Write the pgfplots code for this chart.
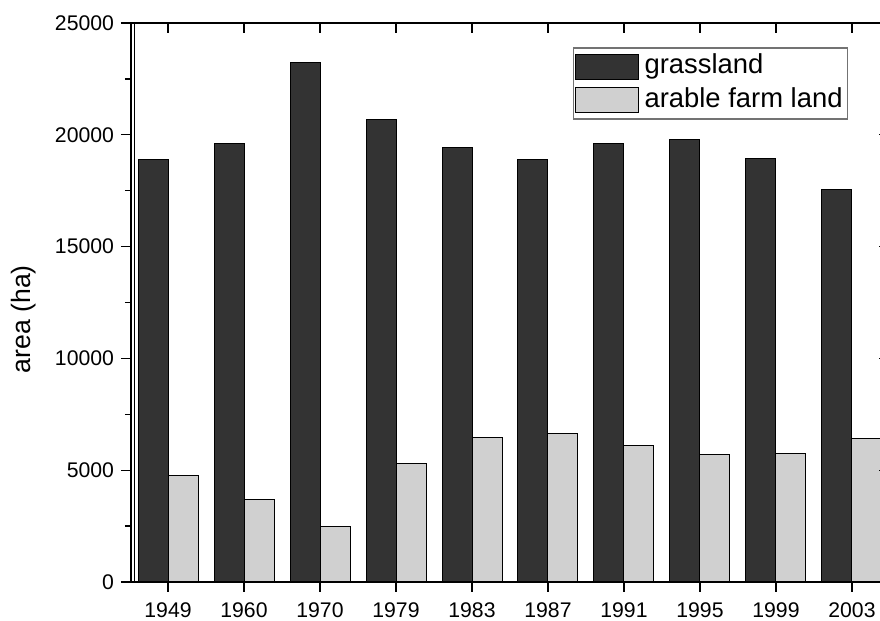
\documentclass[border=0pt]{standalone}
\usepackage{pgfplots}
\pgfplotsset{compat=1.18}
\usepackage{pgfplotstable}
\usepackage{fontspec}
\setmainfont{Liberation Sans}
\definecolor{grass}{HTML}{333333}
\definecolor{arable}{HTML}{D0D0D0}

\pgfplotstableread{
x year grass arable
0 1949 18910 4760
1 1960 19600 3670
2 1970 23250 2490
3 1979 20690 5290
4 1983 19450 6470
5 1987 18910 6620
6 1991 19630 6085
7 1995 19810 5700
8 1999 18930 5730
9 2003 17540 6430
}\landdata

\pgfplotsset{
  common/.style={
    scale only axis, width=379pt, height=279.5pt,
    xmin=-0.487, xmax=9.487, ymin=0, ymax=25000,
    xtick={0,...,9},
    ytick={0,5000,...,25000}, minor ytick={2500,7500,...,22500},
    scaled ticks=false,
    major tick length=5pt, minor tick length=3pt,
    axis line style={line width=0.65pt, black},
    every tick/.style={line width=0.65pt, black},
    every minor tick/.style={line width=0.65pt, black},
  },
  boxlegend/.style={legend image code/.code={\draw[##1] (0pt,-6.25pt) rectangle (31.5pt,6.25pt);}},
}

\begin{document}
\begin{tikzpicture}
\begin{axis}[common,
  xtick pos=bottom, ytick pos=left, tick align=outside,
  xticklabels={1949,1960,1970,1979,1983,1987,1991,1995,1999,2003},
  /pgf/number format/assume math mode=true,
  yticklabel style={/pgf/number format/.cd, fixed, 1000 sep={}},
  ticklabel style={font=\fontsize{10.6}{12}\selectfont},
  xticklabel style={yshift=-2pt},
  ylabel={area (ha)},
  every axis y label/.style={at={(rel axis cs:0,0.47)}, xshift=-53.5pt, rotate=90, anchor=center, font=\fontsize{13.3}{15}\selectfont},
  legend style={at={(rel axis cs:0.5827,0.9565)}, anchor=north west,
    draw=black!55, line width=0.6pt, font=\fontsize{13.7}{16}\selectfont,
    inner xsep=0.65pt, inner ysep=1pt, row sep=0pt, column sep=1pt,
    nodes={inner xsep=2pt, inner ysep=1.875pt, text height=10pt, text depth=3pt},
    cells={anchor=west}},
]
\addplot[ybar, bar width=15pt, bar shift=-7.5pt, fill=grass, draw=black, line width=0.5pt, boxlegend]
  table[x=x, y=grass] {\landdata};
\addlegendentry{grassland}
\addplot[ybar, bar width=15pt, bar shift=7.5pt, fill=arable, draw=black, line width=0.5pt, boxlegend]
  table[x=x, y=arable] {\landdata};
\addlegendentry{arable farm land\hspace{4.5pt}}
\draw[line width=0.4pt] ([xshift=1.5pt]rel axis cs:0,0) -- ([xshift=1.5pt]rel axis cs:0,1);
\coordinate (SW) at (rel axis cs:0,0);
\end{axis}
\begin{axis}[common,
  xtick pos=top, ytick pos=right, tick align=inside,
  xticklabels={}, yticklabels={},
]
\end{axis}
\pgfresetboundingbox
\path ([shift={(-65.5pt,-19.5pt)}]SW) rectangle ++(440pt,310.5pt);
\end{tikzpicture}
\end{document}
